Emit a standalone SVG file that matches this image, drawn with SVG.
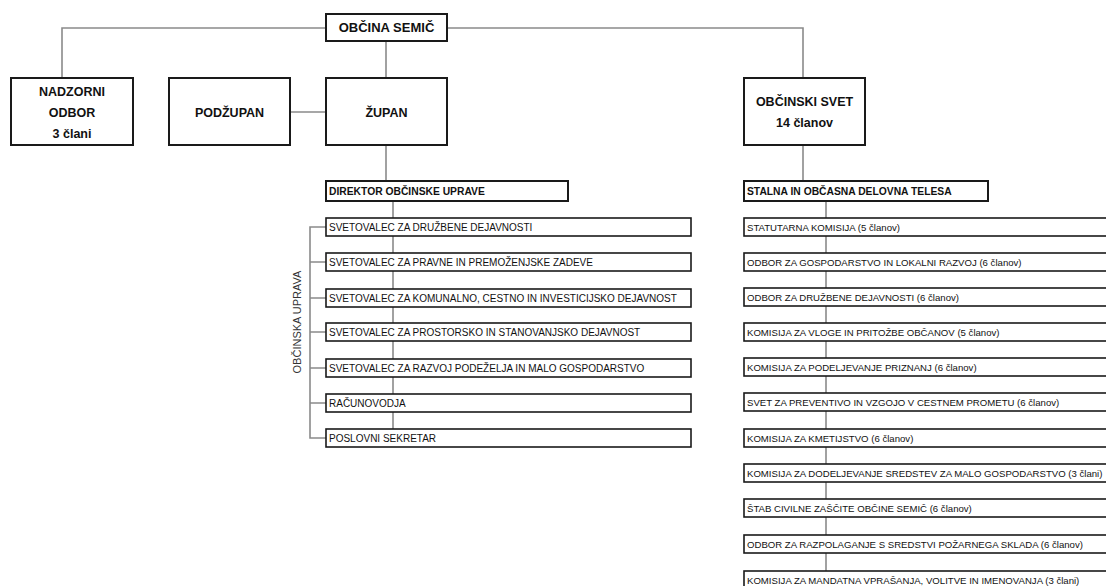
<svg xmlns="http://www.w3.org/2000/svg" width="1106" height="586" viewBox="0 0 1106 586">
<style>
.bg{fill:#ffffff}
.box{fill:#ffffff;stroke:#1a1a1a;stroke-width:2}
.item{fill:#ffffff;stroke:#1a1a1a;stroke-width:1.6}
.con{fill:none;stroke:#8a8a8a;stroke-width:1.6}
.t{font-family:"Liberation Sans",Arial,sans-serif;fill:#111}
.big{font-size:12.5px;font-weight:bold;text-anchor:middle}
.head{font-size:10.3px;font-weight:bold}
.li{font-size:10px}
.ri{font-size:9.6px}
.side{font-size:11px;text-anchor:middle;fill:#333}
</style>
<rect class="bg" x="0" y="0" width="1106" height="586"/>
<g id="connectors">
<path class="con" d="M62,78 V28 H803 V78"/>
<path class="con" d="M386,41 V78"/>
<path class="con" d="M290,112 H326"/>
<path class="con" d="M386,145 V181"/>
<path class="con" d="M393,201 V429"/>
<path class="con" d="M326,227 H310 V438 H326 M310,262 H326 M310,298 H326 M310,332 H326 M310,368 H326 M310,403 H326"/>
<path class="con" d="M803,145 V181"/>
<path class="con" d="M826,201 V571"/>
</g>
<g id="obcina-semic"><rect class="box" x="326" y="14" width="121" height="27"/><text class="t big" x="386.5" y="32" style="font-size:13px">OBČINA SEMIČ</text></g>
<g id="nadzorni-odbor"><rect class="box" x="11" y="78" width="122" height="67"/><text class="t big" x="72" y="96">NADZORNI</text><text class="t big" x="72" y="117">ODBOR</text><text class="t big" x="72" y="138">3 člani</text></g>
<g id="podzupan"><rect class="box" x="169" y="78" width="121" height="67"/><text class="t big" x="229.5" y="117">PODŽUPAN</text></g>
<g id="zupan"><rect class="box" x="326" y="78" width="121" height="67"/><text class="t big" x="386.5" y="117">ŽUPAN</text></g>
<g id="obcinski-svet"><rect class="box" x="744" y="78" width="121" height="67"/><text class="t big" x="804.5" y="106">OBČINSKI SVET</text><text class="t big" x="804.5" y="127">14 članov</text></g>
<g id="direktor"><rect class="box" x="326" y="181" width="242" height="20"/><text class="t head" x="329" y="194.5">DIREKTOR OBČINSKE UPRAVE</text></g>
<g id="stalna"><rect class="box" x="744" y="181" width="244" height="20"/><text class="t head" x="747" y="194.5">STALNA IN OBČASNA DELOVNA TELESA</text></g>
<text class="t side" transform="translate(301,322) rotate(-90)">OBČINSKA UPRAVA</text>
<g id="uprava-1"><rect class="item" x="326" y="218" width="365" height="18"/><text class="t li" x="329" y="230.6">SVETOVALEC ZA DRUŽBENE DEJAVNOSTI</text></g>
<g id="uprava-2"><rect class="item" x="326" y="253" width="365" height="18"/><text class="t li" x="329" y="265.6">SVETOVALEC ZA PRAVNE IN PREMOŽENJSKE ZADEVE</text></g>
<g id="uprava-3"><rect class="item" x="326" y="289" width="365" height="18"/><text class="t li" x="329" y="301.6">SVETOVALEC ZA KOMUNALNO, CESTNO IN INVESTICIJSKO DEJAVNOST</text></g>
<g id="uprava-4"><rect class="item" x="326" y="323" width="365" height="18"/><text class="t li" x="329" y="335.6">SVETOVALEC ZA PROSTORSKO IN STANOVANJSKO DEJAVNOST</text></g>
<g id="uprava-5"><rect class="item" x="326" y="359" width="365" height="18"/><text class="t li" x="329" y="371.6">SVETOVALEC ZA RAZVOJ PODEŽELJA IN MALO GOSPODARSTVO</text></g>
<g id="uprava-6"><rect class="item" x="326" y="394" width="365" height="18"/><text class="t li" x="329" y="406.6">RAČUNOVODJA</text></g>
<g id="uprava-7"><rect class="item" x="326" y="429" width="365" height="18"/><text class="t li" x="329" y="441.6">POSLOVNI SEKRETAR</text></g>
<g id="telo-1"><rect class="item" x="744" y="218" width="370" height="18"/><text class="t ri" x="747" y="230.5">STATUTARNA KOMISIJA (5 članov)</text></g>
<g id="telo-2"><rect class="item" x="744" y="253" width="370" height="18"/><text class="t ri" x="747" y="265.5">ODBOR ZA GOSPODARSTVO IN LOKALNI RAZVOJ (6 članov)</text></g>
<g id="telo-3"><rect class="item" x="744" y="288" width="370" height="18"/><text class="t ri" x="747" y="300.5">ODBOR ZA DRUŽBENE DEJAVNOSTI (6 članov)</text></g>
<g id="telo-4"><rect class="item" x="744" y="323" width="370" height="18"/><text class="t ri" x="747" y="335.5">KOMISIJA ZA VLOGE IN PRITOŽBE OBČANOV (5 članov)</text></g>
<g id="telo-5"><rect class="item" x="744" y="358" width="370" height="18"/><text class="t ri" x="747" y="370.5">KOMISIJA ZA PODELJEVANJE PRIZNANJ (6 članov)</text></g>
<g id="telo-6"><rect class="item" x="744" y="393" width="370" height="18"/><text class="t ri" x="747" y="405.5">SVET ZA PREVENTIVO IN VZGOJO V CESTNEM PROMETU (6 članov)</text></g>
<g id="telo-7"><rect class="item" x="744" y="429" width="370" height="18"/><text class="t ri" x="747" y="441.5">KOMISIJA ZA KMETIJSTVO (6 članov)</text></g>
<g id="telo-8"><rect class="item" x="744" y="464" width="370" height="18"/><text class="t ri" x="747" y="476.5">KOMISIJA ZA DODELJEVANJE SREDSTEV ZA MALO GOSPODARSTVO (3 člani)</text></g>
<g id="telo-9"><rect class="item" x="744" y="499" width="370" height="18"/><text class="t ri" x="747" y="511.5">ŠTAB CIVILNE ZAŠČITE OBČINE SEMIČ (6 članov)</text></g>
<g id="telo-10"><rect class="item" x="744" y="535" width="370" height="18"/><text class="t ri" x="747" y="547.5">ODBOR ZA RAZPOLAGANJE S SREDSTVI POŽARNEGA SKLADA (6 članov)</text></g>
<g id="telo-11"><rect class="item" x="744" y="571" width="370" height="18"/><text class="t ri" x="747" y="583.5">KOMISIJA ZA MANDATNA VPRAŠANJA, VOLITVE IN IMENOVANJA (3 člani)</text></g>
</svg>
